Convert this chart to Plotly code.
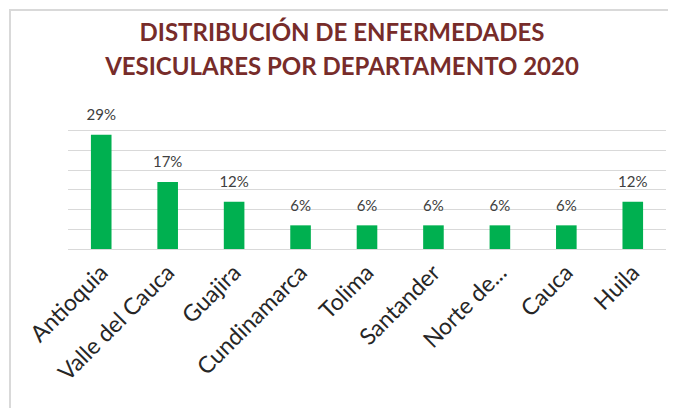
import plotly.graph_objects as go

departamentos = ["Antioquia", "Valle del Cauca", "Guajira", "Cundinamarca", "Tolima",
                 "Santander", "Norte de...", "Cauca", "Huila"]
porcentajes = [29, 17, 12, 6, 6, 6, 6, 6, 12]
titulo_l1 = "DISTRIBUCIÓN DE ENFERMEDADES"
titulo_l2 = "VESICULARES POR DEPARTAMENTO 2020"

# page has an 8px body margin; figure sized/positioned to compensate
OFF = 8
W, H = 676 - OFF, 408 - OFF
ml, mr, mt, mb = 68 - OFF, 10, 111 - OFF, 159
pw, ph = W - ml - mr, H - mt - mb

def px_x(px):
    return (px - OFF - ml) / pw

def px_y(py):
    return (H - mb - (py - OFF)) / ph

fig = go.Figure()
fig.add_trace(go.Bar(
    x=departamentos, y=porcentajes,
    marker=dict(color="#00B050", line=dict(width=0)),
    width=0.31, hoverinfo="x+y",
))
fig.add_trace(go.Scatter(
    x=departamentos, y=porcentajes, mode="markers+text",
    marker=dict(size=16, opacity=0),
    texttemplate="%{y}%", textposition="top center", cliponaxis=False,
    textfont=dict(size=15, color="#404040", family="Lato"),
    hoverinfo="skip",
))

titulo = (f"<span style='font-size:24px'>{titulo_l1}</span><br>"
          f"<span style='font-size:24px'>{titulo_l2}</span>")

fig.update_layout(
    width=W, height=H,
    margin=dict(l=ml, r=mr, t=mt, b=mb, autoexpand=False),
    paper_bgcolor="white", plot_bgcolor="white",
    showlegend=False,
    title=dict(text=titulo, x=0.5, xref="container", xanchor="center",
               y=1 - 33 / H, yanchor="top", automargin=False,
               font=dict(family="Lato", size=26, color="#772C2A", weight="bold")),
    xaxis=dict(tickangle=-45, tickfont=dict(family="Lato", size=23, color="#262626"),
               showgrid=False, showline=True, linecolor="#D9D9D9", linewidth=1,
               ticks="", range=[-0.5, 8.5], automargin=False),
    yaxis=dict(range=[0, 35], dtick=5, showticklabels=False, showgrid=True,
               gridcolor="#D9D9D9", gridwidth=1, zeroline=False, ticks="",
               automargin=False),
    shapes=[dict(type="rect", xref="paper", yref="paper",
                 x0=px_x(10), x1=px_x(720), y0=px_y(450), y1=px_y(10),
                 line=dict(color="#D9D9D9", width=2), fillcolor="rgba(0,0,0,0)",
                 layer="below")],
)

fig.write_html("out.html")
